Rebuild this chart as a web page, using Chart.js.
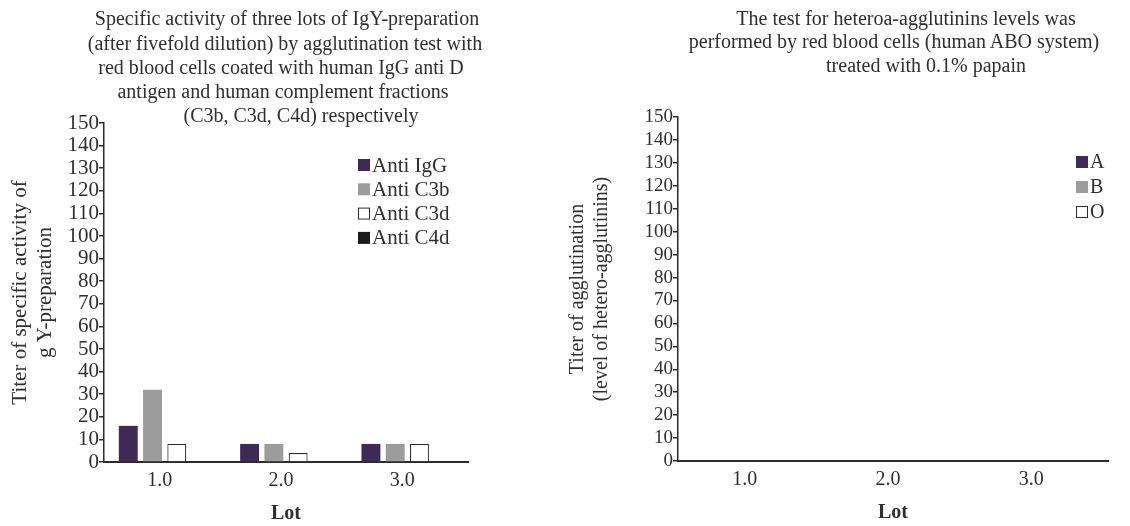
<!DOCTYPE html>
<html lang="en">
<head>
<meta charset="UTF-8">
<title>IgY agglutination</title>
<script src="https://cdn.jsdelivr.net/npm/chart.js"></script>
<style>
  body { margin: 0; background: #fff; width: 1130px; height: 526px; position: relative; overflow: hidden; font-family: "Liberation Serif", serif; color: #2f2f2f; }
  .box { position: absolute; top: 0; height: 526px; }
  .ln { position: absolute; width: 600px; height: 24px; line-height: 24px; text-align: center; font-size: 20px; white-space: nowrap; }
</style>
</head>
<body>
<div class="box" style="left:0;width:560px"><canvas id="left"></canvas></div>
<div class="box" style="left:560px;width:570px"><canvas id="right"></canvas></div>
<div class="ln" style="left:-13px;top:6px">Specific activity of three lots of IgY-preparation</div>
<div class="ln" style="left:-15px;top:31px">(after fivefold dilution) by agglutination test with</div>
<div class="ln" style="left:-19px;top:55px">red blood cells coated with human IgG anti D</div>
<div class="ln" style="left:-17px;top:79px">antigen and human complement fractions</div>
<div class="ln" style="left:1px;top:103px">(C3b, C3d, C4d) respectively</div>
<div class="ln" style="left:606px;top:6px">The test for heteroa-agglutinins levels was</div>
<div class="ln" style="left:594px;top:29px">performed by red blood cells (human ABO system)</div>
<div class="ln" style="left:626px;top:53px">treated with 0.1% papain</div>
<script>
// data
const lots = ['1.0', '2.0', '3.0'];
const yTicks = [0, 10, 20, 30, 40, 50, 60, 70, 80, 90, 100, 110, 120, 130, 140, 150];

const antiIgG = [16, 8, 8];
const antiC3b = [32, 8, 8];
const antiC3d = [8, 4, 8];
const antiC4d = [0, 0, 0];

const groupA = [0, 0, 0];
const groupB = [0, 0, 0];
const groupO = [0, 0, 0];

const PURPLE = '#3f2a56', GREY = '#9c9c9c', INK = '#2f2a28';
const serif = 'Liberation Serif';

// draws the little square legend inside the plot
const boxLegend = {
  id: 'boxLegend',
  afterDraw(chart, args, opts) {
    const ctx = chart.ctx;
    ctx.save();
    ctx.font = opts.size + 'px "' + serif + '"';
    ctx.textBaseline = 'middle';
    chart.data.datasets.forEach((ds, i) => {
      const y = opts.y + i * opts.step;
      ctx.fillStyle = ds.backgroundColor;
      ctx.fillRect(opts.x, y - 6, 12, 12);
      if (ds.backgroundColor === '#ffffff') {
        ctx.strokeStyle = INK;
        ctx.lineWidth = 1;
        ctx.strokeRect(opts.x + 0.5, y - 5.5, 11, 11);
      }
      ctx.fillStyle = '#2f2f2f';
      ctx.fillText(ds.label, opts.x + 14, y + 1);
    });
    ctx.restore();
  }
};

function makeChart(id, datasets, yTitle, cfg) {
  return new Chart(document.getElementById(id), {
    type: 'bar',
    data: { labels: lots, datasets: datasets },
    options: {
      responsive: true,
      maintainAspectRatio: false,
      animation: false,
      layout: { padding: cfg.pad },
      plugins: {
        legend: { display: false },
        tooltip: { enabled: false },
        boxLegend: cfg.legend
      },
      scales: {
        x: {
          grid: { display: false, drawTicks: false },
          border: { color: INK, width: 2 },
          ticks: { color: '#2f2f2f', font: { family: serif, size: 20 }, padding: 7, labelOffset: cfg.labelShift },
          title: { display: true, text: 'Lot', color: '#2f2f2f', font: { family: serif, size: 20, weight: 'bold' }, padding: { top: 12, bottom: 0 } },
          afterFit: s => { s.height = 64; }
        },
        y: {
          min: 0,
          max: 150,
          afterBuildTicks: s => { s.ticks = yTicks.map(v => ({ value: v })); },
          grid: { display: true, drawOnChartArea: false, drawTicks: true, tickLength: 5, color: INK, lineWidth: 1.5 },
          border: { color: INK, width: 1.5 },
          ticks: { color: '#2f2f2f', font: { family: serif, size: cfg.tickSize }, padding: 0, autoSkip: false },
          title: { display: true, text: yTitle, color: '#2f2f2f', font: { family: serif, size: cfg.titleSize, lineHeight: 1.2 }, padding: { top: 0, bottom: 4 } },
          afterFit: s => { s.width = cfg.yWidth; }
        }
      }
    },
    plugins: [boxLegend]
  });
}

const barOpts = { categoryPercentage: 0.8, barPercentage: 0.78, borderSkipped: 'start' };

makeChart('left', [
  Object.assign({ label: 'Anti IgG', data: antiIgG, backgroundColor: PURPLE, borderWidth: 0 }, barOpts),
  Object.assign({ label: 'Anti C3b', data: antiC3b, backgroundColor: GREY, borderWidth: 0 }, barOpts),
  Object.assign({ label: 'Anti C3d', data: antiC3d, backgroundColor: '#ffffff', borderColor: INK, borderWidth: 1.2 }, barOpts),
  Object.assign({ label: 'Anti C4d', data: antiC4d, backgroundColor: '#1c1a1a', borderWidth: 0 }, barOpts)
], ['Titer of specific activity of', 'g Y-preparation'], {
  yWidth: 96, tickSize: 21, titleSize: 21, labelShift: -5,
  pad: { top: 123, right: 92, left: 8, bottom: 0 },
  legend: { x: 358, y: 165, step: 24.3, size: 21 }
});

makeChart('right', [
  Object.assign({ label: 'A', data: groupA, backgroundColor: PURPLE, borderWidth: 0 }, barOpts),
  Object.assign({ label: 'B', data: groupB, backgroundColor: GREY, borderWidth: 0 }, barOpts),
  Object.assign({ label: 'O', data: groupO, backgroundColor: '#ffffff', borderColor: INK, borderWidth: 0 }, barOpts)
], ['Titer of agglutination', '(level of hetero-agglutinins)'], {
  yWidth: 112, tickSize: 19, titleSize: 20, labelShift: -5,
  pad: { top: 117, right: 22, left: 6, bottom: 1 },
  legend: { x: 516, y: 162, step: 25, size: 20 }
});
</script>
</body>
</html>
